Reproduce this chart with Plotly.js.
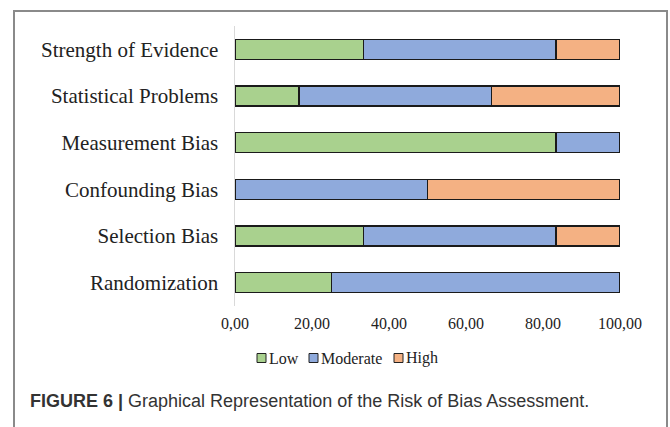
<!DOCTYPE html>
<html>
<head>
<meta charset="utf-8">
<script src="https://cdn.plot.ly/plotly-3.0.1.min.js"></script>
<style>
  html, body { margin: 0; padding: 0; background: #fff; }
  #chart { width: 670px; height: 427px; }
</style>
</head>
<body>
<div id="chart"></div>
<script>
// Risk-of-bias domains, listed bottom to top
var categories = ["Randomization", "Selection Bias", "Confounding Bias",
                  "Measurement Bias", "Statistical Problems", "Strength of Evidence"];

// Share of studies (%) per rating
var low      = [25.00, 33.33, null,  83.33, 16.67, 33.33];
var moderate = [75.00, 50.00, 50.00, 16.67, 50.00, 50.00];
var high     = [null,  16.67, 50.00, null,  33.33, 16.67];

var tickValues = [0, 20, 40, 60, 80, 100];
var tickLabels = ["0,00", "20,00", "40,00", "60,00", "80,00", "100,00"];

var ratingNames  = ["Low", "Moderate", "High"];
var ratingColors = ["#A9D18E", "#8FAADC", "#F4B183"];

var serif = "Liberation Serif, Times New Roman, serif";

function series(i, values) {
  return {
    type: "bar",
    orientation: "h",
    name: ratingNames[i],
    x: values,
    y: categories,
    marker: { color: ratingColors[i], line: { color: "#1a1a1a", width: 1.5 } },
    hoverinfo: "x+y+name",
    showlegend: false
  };
}

var data = [series(0, low), series(1, moderate), series(2, high)];

// plot area: x 235..620, y 26..306 (pixels)
var L = 235, R = 620, T = 26, B = 306;
function px(p) { return (p - L) / (R - L); }
function py(q) { return (B - q) / (B - T); }

var shapes = [
  {
    type: "rect", xref: "paper", yref: "paper",
    x0: px(14), x1: px(667), y0: py(440), y1: py(11),
    line: { color: "#8a8a8a", width: 2 },
    fillcolor: "rgba(0,0,0,0)",
    layer: "below"
  }
];

var annotations = [
  {
    xref: "paper", yref: "paper",
    x: px(28), y: py(401),
    xanchor: "left", yanchor: "middle",
    showarrow: false,
    text: "<b>FIGURE 6 |</b> Graphical Representation of the Risk of Bias Assessment.",
    font: { family: "Liberation Sans, Arial, sans-serif", size: 18, color: "#333" }
  }
];

// compact legend: small outlined swatch right before each label
var legendX = [257, 309, 394];
var legendY = 358;
ratingNames.forEach(function (name, i) {
  shapes.push({
    type: "rect", xref: "paper", yref: "paper",
    x0: px(legendX[i]), x1: px(legendX[i] + 9),
    y0: py(legendY + 4.5), y1: py(legendY - 4.5),
    fillcolor: ratingColors[i],
    line: { color: "#222", width: 1 }
  });
  annotations.push({
    xref: "paper", yref: "paper",
    x: px(legendX[i] + 10), y: py(legendY),
    xanchor: "left", yanchor: "middle",
    showarrow: false,
    text: name,
    font: { family: serif, size: 16, color: "#222" }
  });
});

var layout = {
  width: 670,
  height: 427,
  margin: { l: L, r: 670 - R, t: T, b: 427 - B, pad: 0 },
  paper_bgcolor: "#ffffff",
  plot_bgcolor: "#ffffff",
  barmode: "stack",
  bargap: 0.57,
  showlegend: false,
  xaxis: {
    range: [0, 100],
    tickvals: tickValues,
    ticktext: tickLabels,
    showgrid: false,
    zeroline: false,
    showline: false,
    ticks: "",
    ticklabelstandoff: 6,
    tickfont: { family: serif, size: 16, color: "#222" },
    fixedrange: true
  },
  yaxis: {
    type: "category",
    showgrid: false,
    zeroline: false,
    showline: true,
    linecolor: "#d9d9d9",
    linewidth: 1.5,
    ticks: "",
    ticklabelstandoff: 11,
    tickfont: { family: serif, size: 21, color: "#222" },
    fixedrange: true
  },
  shapes: shapes,
  annotations: annotations
};

Plotly.newPlot("chart", data, layout, { displayModeBar: false, staticPlot: true });
</script>
</body>
</html>
